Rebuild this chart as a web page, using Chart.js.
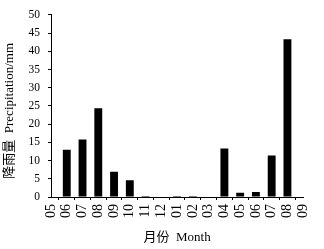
<!DOCTYPE html>
<html>
<head>
<meta charset="utf-8">
<script src="https://cdn.jsdelivr.net/npm/chart.js@4.4.0/dist/chart.umd.min.js"></script>
<style>
  html, body { margin: 0; padding: 0; background: #fff; }
  #wrap { width: 324px; height: 249px; }
</style>
</head>
<body>
<div id="wrap"><canvas id="myChart" width="324" height="249"></canvas></div>
<script>
// month labels (May of one year to Sep of the next)
var months = ["05", "06", "07", "08", "09", "10", "11", "12", "01", "02", "03", "04", "05", "06", "07", "08", "09"];
// monthly precipitation, mm
var precipitation = [null, 13, 15.8, 24.4, 6.9, 4.6, 0.3, 0, 0.3, 0.3, 0, 13.3, 1.2, 1.4, 11.4, 43.3, null];
var yTicks = [0, 50, 5];

var serif = "'Liberation Serif', 'Noto Sans CJK SC', serif";

var ctx = document.getElementById("myChart").getContext("2d");
var myChart = new Chart(ctx, {
    type: "bar",
    data: {
        labels: months,
        datasets: [
            {
                label: "降雨量",
                data: precipitation,
                backgroundColor: "#000",
                borderWidth: 0,
                barPercentage: 0.5,
                categoryPercentage: 1,
            },
        ],
    },
    options: {
        responsive: false,
        animation: false,
        layout: { padding: { left: 0, right: 17, top: 9, bottom: 4 } },
        scales: {
            x: {
                offset: false,
                border: { color: "#000", width: 1 },
                grid: { display: true, drawOnChartArea: false, color: "#000", tickLength: 3 },
                ticks: {
                    color: "#000",
                    font: { family: serif, size: 14 },
                    maxRotation: 90,
                    minRotation: 90,
                    autoSkip: false,
                    padding: 4,
                },
                title: {
                    display: true,
                    text: "月份  Month",
                    color: "#000",
                    font: { family: serif, size: 13 },
                    padding: { top: 0, bottom: 0 },
                },
                afterFit: function (scale) { scale.height = 48; },
            },
            y: {
                min: yTicks[0],
                max: yTicks[1],
                border: { color: "#000", width: 1 },
                grid: { display: true, drawOnChartArea: false, color: "#000", tickLength: 3 },
                ticks: {
                    stepSize: yTicks[2],
                    color: "#000",
                    font: { family: serif, size: 11.5 },
                    padding: 8,
                },
                title: {
                    display: true,
                    text: "降雨量  Precipitation/mm   ",
                    color: "#000",
                    font: { family: serif, size: 13 },
                    padding: { top: 2, bottom: 0 },
                },
                afterFit: function (scale) { scale.width = 51; },
            },
        },
        plugins: {
            legend: { display: false },
            tooltip: { enabled: false },
        },
    },
});
</script>
</body>
</html>
